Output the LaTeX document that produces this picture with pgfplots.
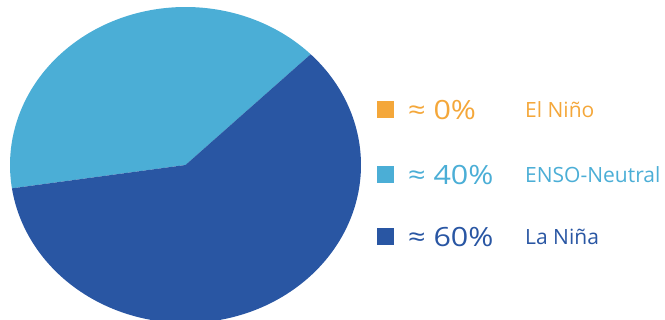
\documentclass[border=0pt]{standalone}
\usepackage{fontspec}
\setmainfont{Open Sans}
\newfontfamily\bigfont[FakeStretch=1.15]{Open Sans}
\usepackage{pgfplots}
\usepackage{pgfplotstable}
\pgfplotsset{compat=1.18}
\definecolor{nino}{HTML}{F4A73A}
\definecolor{neutral}{HTML}{4BAED6}
\definecolor{nina}{HTML}{2956A3}
\pgfplotstableread{
name share
ElNino 0
Neutral 40
LaNina 60
}\pietable
\begin{document}
\begin{tikzpicture}
\useasboundingbox (0,0) rectangle (665pt,320pt);
\pgfplotstablegetelem{1}{share}\of\pietable
\pgfmathsetmacro{\aA}{44.5}
\pgfmathsetmacro{\aB}{\aA+3.6*\pgfplotsretval}
\pgfplotstablegetelem{2}{share}\of\pietable
\pgfmathsetmacro{\aC}{\aB+3.6*\pgfplotsretval}
\begin{axis}[at={(10pt,-3pt)}, anchor=south west, scale only axis,
  width=351pt, height=316pt, xmin=-175.5, xmax=175.5, ymin=-158, ymax=158,
  hide axis, clip=false]
\addplot[fill=neutral, draw=none, domain=\aA:\aB, samples=120]
  ({175.5*cos(x)},{158*sin(x)}) -- (axis cs:0,0) -- cycle;
\addplot[fill=nina, draw=none, domain=\aB:\aC, samples=160]
  ({175.5*cos(x)},{158*sin(x)}) -- (axis cs:0,0) -- cycle;
\end{axis}
% legend
\fill[nino] (377pt,202pt) rectangle (394pt,219pt);
\fill[neutral] (377pt,137pt) rectangle (394pt,154pt);
\fill[nina] (377pt,75pt) rectangle (394pt,92pt);
\node[anchor=west, inner sep=0pt, text=nino] at (408pt,210pt) {\fontsize{26.5}{30}\bigfont ≈ 0\%};
\node[anchor=west, inner sep=0pt, text=neutral] at (408pt,145pt) {\fontsize{26.5}{30}\bigfont ≈ 40\%};
\node[anchor=west, inner sep=0pt, text=nina] at (408pt,83pt) {\fontsize{26.5}{30}\bigfont ≈ 60\%};
\node[anchor=west, inner sep=0pt, text=nino] at (525pt,210pt) {\fontsize{21}{24}\selectfont El Niño};
\node[anchor=west, inner sep=0pt, text=neutral] at (525pt,145pt) {\fontsize{21}{24}\selectfont ENSO-Neutral};
\node[anchor=west, inner sep=0pt, text=nina] at (525pt,83pt) {\fontsize{21}{24}\selectfont La Niña};
\end{tikzpicture}
\end{document}
